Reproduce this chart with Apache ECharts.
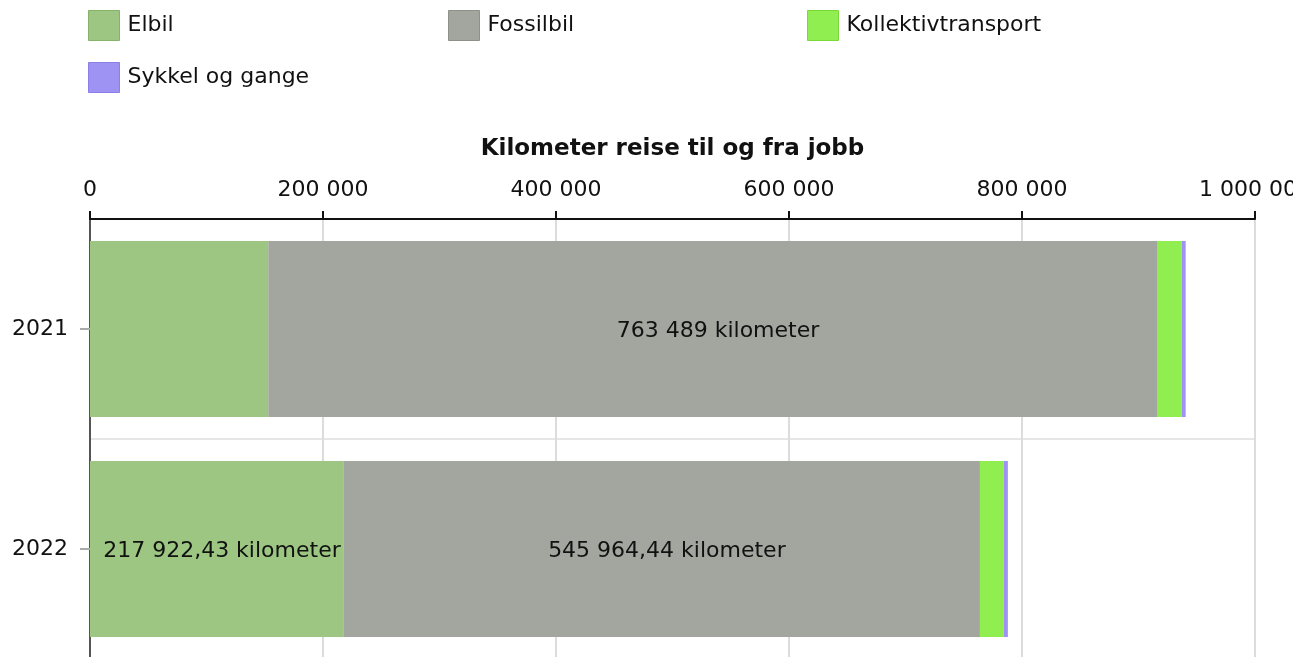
<!DOCTYPE html>
<html>
<head>
<meta charset="utf-8">
<script src="https://cdn.jsdelivr.net/npm/echarts@6/dist/echarts.min.js"></script>
<style>
  html, body { margin: 0; padding: 0; background: #fff; }
  #main { width: 1312px; height: 657px; }
</style>
</head>
<body>
<div id="main"></div>
<script>
// data
var years = ['2021', '2022'];
var elbil = [153000, 217922.43];
var fossilbil = [763489, 545964.44];
var kollektiv = [20600, 20600];
var sykkel = [3400, 3400];
var elbilLabel = [false, true];   // 2021 label did not fit in the bar
var fossilLabel = [true, true];

var colors = ['#9cc682', '#a3a59f', '#90ee50', '#9e93f2'];
var borders = ['#86b36a', '#8e908a', '#7ad83b', '#8a7fe6'];
var names = ['Elbil', 'Fossilbil', 'Kollektivtransport', 'Sykkel og gange'];
var FONT = 'DejaVu Sans';

function fmtNo(v) {
    var s = Number.isInteger(v) ? String(v) : v.toFixed(2);
    var parts = s.split('.');
    var whole = parts[0].replace(/\B(?=(\d{3})+(?!\d))/g, ' ');
    return parts.length > 1 ? whole + ',' + parts[1] : whole;
}

function labelled(values, flags) {
    return values.map(function (v, i) {
        return { value: v, label: { show: flags[i] } };
    });
}

var legendPos = [[88, 10], [448, 10], [807, 10], [88, 62]];
var legends = names.map(function (n, i) {
    return {
        left: legendPos[i][0], top: legendPos[i][1], padding: 0,
        itemWidth: 31, itemHeight: 30, selectedMode: false,
        icon: 'rect',
        textStyle: { fontFamily: FONT, fontSize: 22, color: '#111', padding: [0, 0, 0, 3] },
        data: [{ name: n, itemStyle: { color: colors[i], borderColor: borders[i], borderWidth: 1 } }]
    };
});

var barLabel = {
    show: true, position: 'inside', color: '#111',
    fontFamily: FONT, fontSize: 22, offset: [5, 2],
    formatter: function (p) { return fmtNo(p.value) + ' kilometer'; }
};

var myChart = echarts.init(document.getElementById('main'));
var option = {
    animation: false,
    legend: legends,
    grid: { left: 90, right: 57, top: 219, height: 440, outerBoundsMode: 'none' },
    xAxis: {
        type: 'value', position: 'top',
        min: 0, max: 1000000, interval: 200000,
        name: 'Kilometer reise til og fra jobb',
        nameLocation: 'middle', nameGap: 58,
        nameTextStyle: { fontFamily: FONT, fontSize: 23, fontWeight: 'bold', color: '#111' },
        axisLine: { show: true, lineStyle: { color: '#111', width: 2 } },
        axisTick: { show: true, length: 8, lineStyle: { color: '#111', width: 2 } },
        axisLabel: {
            margin: 18, fontFamily: FONT, fontSize: 22, color: '#111',
            formatter: function (v) { return fmtNo(v); }
        },
        splitLine: { show: true, lineStyle: { color: '#dcdcdc', width: 2 } }
    },
    yAxis: {
        type: 'category', data: years, inverse: true,
        axisLine: { show: true, lineStyle: { color: '#555', width: 2 } },
        axisTick: { show: true, alignWithLabel: true, length: 10, lineStyle: { color: '#aaa', width: 2 } },
        axisLabel: { margin: 22, fontFamily: FONT, fontSize: 22, color: '#111' },
        splitLine: { show: true, lineStyle: { color: '#e6e6e6', width: 2 } }
    },
    // the original page clipped the last tick label at its right edge
    graphic: [{ type: 'rect', right: 0, top: 170, shape: { width: 19, height: 40 },
                style: { fill: '#fff' }, z: 100 }],
    series: [
        { name: names[0], type: 'bar', stack: 'km', barWidth: '80%',
          itemStyle: { color: colors[0] }, label: barLabel, data: labelled(elbil, elbilLabel) },
        { name: names[1], type: 'bar', stack: 'km',
          itemStyle: { color: colors[1] }, label: barLabel, data: labelled(fossilbil, fossilLabel) },
        { name: names[2], type: 'bar', stack: 'km',
          itemStyle: { color: colors[2] }, data: kollektiv },
        { name: names[3], type: 'bar', stack: 'km',
          itemStyle: { color: colors[3] }, data: sykkel }
    ]
};
myChart.setOption(option);
</script>
</body>
</html>
